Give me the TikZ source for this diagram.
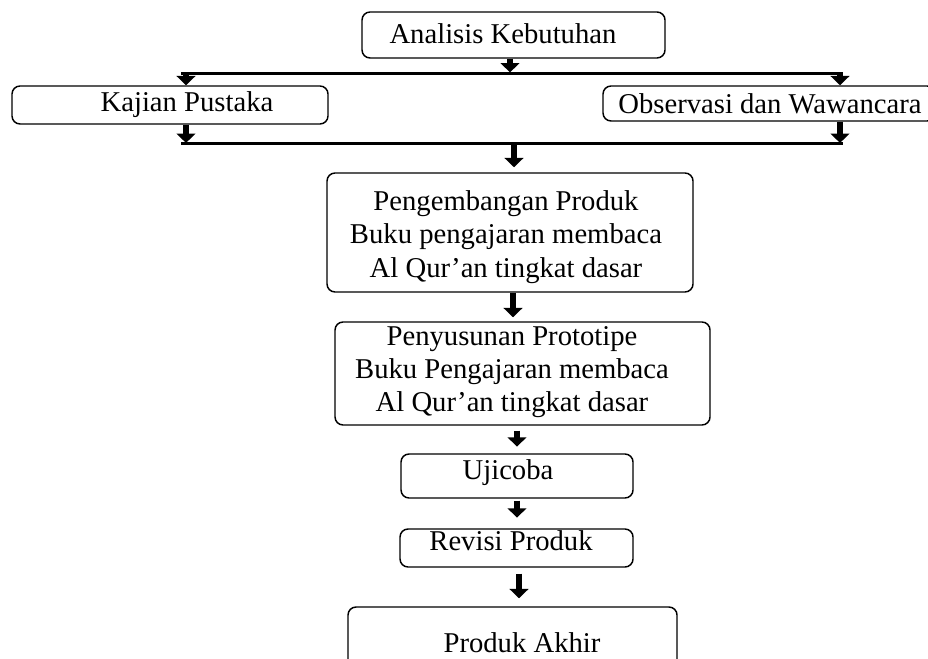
\documentclass[tikz,border=0pt]{standalone}
\usepackage{fontspec}
\setmainfont{Liberation Serif}
\usetikzlibrary{arrows.meta}
\begin{document}
\begin{tikzpicture}[x=0.75pt,y=-0.75pt,
  box/.style={draw, line width=1.1pt, rounded corners=6pt, inner sep=0pt},
  txt/.style={font=\fontsize{21.5}{25}\selectfont, align=center, inner sep=0pt},
  flow/.style={line width=4pt, -{Triangle[width=14pt,length=7pt]}},
  bus/.style={line width=2.25pt}]
\useasboundingbox (0,0) rectangle (928,659);
\clip (0,0) rectangle (928,659);
% boxes
\node[box, minimum width=303*0.75pt, minimum height=46*0.75pt] (ak) at (513.5,35) {};
\node[box, minimum width=316*0.75pt, minimum height=38*0.75pt] (kp) at (170,105) {};
\node[box, minimum width=332*0.75pt, minimum height=35*0.75pt] (ob) at (769,103.5) {};
\node[box, minimum width=366*0.75pt, minimum height=119*0.75pt] (pp) at (510,232.5) {};
\node[box, minimum width=375*0.75pt, minimum height=103*0.75pt] (ps) at (522.5,373.5) {};
\node[box, minimum width=232*0.75pt, minimum height=44*0.75pt] (uj) at (517,476) {};
\node[box, minimum width=233*0.75pt, minimum height=38*0.75pt] (rv) at (516.5,548) {};
\node[box, minimum width=329*0.75pt, minimum height=113*0.75pt] (pa) at (512.5,663.5) {};
% texts
\node[txt] (akt) at (503,34) {Analisis Kebutuhan};
\node[txt] (kpt) at (187,105) {Kajian Pustaka};
\node[txt] (obt) at (770,104) {Observasi dan Wawancara};
\node[txt] (ppt) at (506,237) {Pengembangan Produk\\Buku pengajaran membaca\\Al Qur’an tingkat dasar};
\node[txt] (pst) at (512,372) {Penyusunan Prototipe\\Buku Pengajaran membaca\\Al Qur’an tingkat dasar};
\node[txt] (ujt) at (508,473) {Ujicoba};
\node[txt] (rvt) at (511,541) {Revisi Produk};
\node[txt] (pat) at (522,643) {Produk Akhir};
% bus lines and columns
\coordinate (b1l) at (181,74);
\coordinate (b1r) at (843,74);
\coordinate (b2l) at (181,144);
\coordinate (b2r) at (843,144);
\coordinate (xl) at (186,0);
\coordinate (xr) at (840,0);
\coordinate (xa) at (510,0);
\coordinate (xc) at (514,0);
\coordinate (xd) at (513,0);
\coordinate (xe) at (517,0);
\coordinate (xf) at (519,0);
\draw[bus] (b1l) -- (b1r);
\draw[bus] (b2l) -- (b2r);
% connectors
\draw[flow, shorten >=1.2pt] (ak.south -| xa) -- (b1l -| xa);
\draw[flow] (b1l -| xl) -- (kp.north -| xl);
\draw[flow] (b1r -| xr) -- (ob.north -| xr);
\draw[flow, shorten >=0.8pt] (kp.south -| xl) -- (b2l -| xl);
\draw[flow, shorten >=0.8pt] (ob.south -| xr) -- (b2r -| xr);
\draw[flow, shorten >=3.75pt] (b2l -| xc) -- (pp.north -| xc);
\draw[flow, shorten >=3pt] (pp.south -| xd) -- (ps.north -| xd);
\draw[flow, shorten <=3.75pt, shorten >=5pt] (ps.south -| xe) -- (uj.north -| xe);
\draw[flow, shorten <=1.5pt, shorten >=8pt] (uj.south -| xe) -- (rv.north -| xe);
\draw[flow, shorten <=4.5pt, shorten >=6pt] (rv.south -| xf) -- (pa.north -| xf);
\end{tikzpicture}
\end{document}
